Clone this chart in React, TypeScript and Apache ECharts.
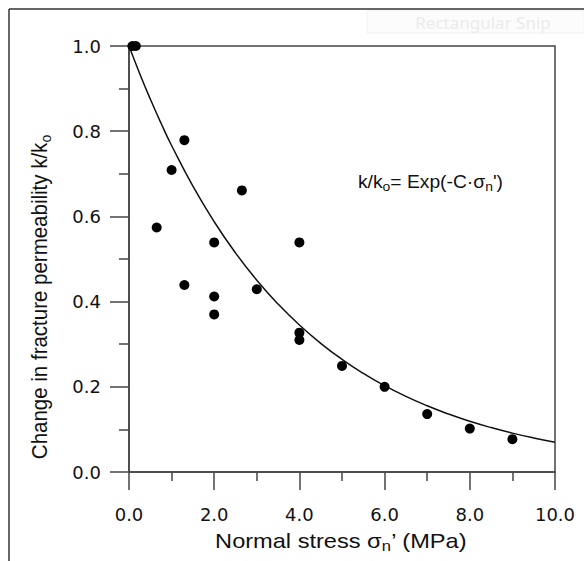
import React, { useEffect, useRef } from "react";
import * as echarts from "echarts";

// Measured data: normal stress (MPa) vs. k/ko
const stressValues = [0.08, 0.16, 0.65, 1.0, 1.3, 1.3, 2.0, 2.0, 2.0, 2.65, 3.0, 4.0, 4.0, 4.0, 5.0, 6.0, 7.0, 8.0, 9.0];
const permValues = [1.0, 1.0, 0.574, 0.709, 0.779, 0.439, 0.539, 0.412, 0.370, 0.661, 0.429, 0.539, 0.327, 0.310, 0.249, 0.200, 0.136, 0.102, 0.077];

// Fitted model k/ko = exp(-C * sigma)
const fitC = 0.266;
const curveX = [0, 0.25, 0.5, 0.75, 1, 1.5, 2, 2.5, 3, 3.5, 4, 4.5, 5, 5.5, 6, 6.5, 7, 7.5, 8, 8.5, 9, 9.5, 10];

const xTicks = ["0.0", "2.0", "4.0", "6.0", "8.0", "10.0"];
const yTicks = ["0.0", "0.2", "0.4", "0.6", "0.8", "1.0"];

const FONT = "'Liberation Sans', Arial, sans-serif";
const TICK_FONT = "'DejaVu Sans', 'Liberation Sans', sans-serif";

export default function App() {
  const ref = useRef<HTMLDivElement>(null);
  useEffect(() => {
    if (!ref.current) return;
    const chart = echarts.init(ref.current, null, { renderer: "svg" });
    const pts = stressValues.map((x, i) => [x, permValues[i]]);
    const curve = curveX.map((x) => [x, Math.exp(-fitC * x)]);
    const axisColor = "#444";
    chart.setOption({
      animation: false,
      backgroundColor: "#fff",
      grid: {
        left: 129,
        top: 46,
        right: 29,
        bottom: 89,
        show: true,
        borderColor: axisColor,
        borderWidth: 1.5,
      },
      xAxis: {
        type: "value",
        min: 0,
        max: 10,
        interval: 2,
        axisLine: { show: true, lineStyle: { color: axisColor, width: 1.5 } },
        axisTick: { show: true, inside: false, length: 18, lineStyle: { color: axisColor, width: 1.5 } },
        minorTick: { show: true, splitNumber: 2, length: 9, lineStyle: { color: axisColor, width: 1.5 } },
        splitLine: { show: false },
        axisLabel: {
          margin: 33,
          fontSize: 18,
          fontFamily: TICK_FONT,
          color: "#111",
          formatter: (v: number) => xTicks[Math.round(v / 2)] ?? "",
        },
      },
      yAxis: {
        type: "value",
        min: 0,
        max: 1,
        interval: 0.2,
        axisLine: { show: true, lineStyle: { color: axisColor, width: 1.5 } },
        axisTick: { show: true, inside: false, length: 19, lineStyle: { color: axisColor, width: 1.5 } },
        minorTick: { show: true, splitNumber: 2, length: 10, lineStyle: { color: axisColor, width: 1.5 } },
        splitLine: { show: false },
        axisLabel: {
          margin: 28,
          fontSize: 18,
          fontFamily: TICK_FONT,
          color: "#111",
          formatter: (v: number) => yTicks[Math.round(v / 0.2)] ?? "",
        },
      },
      series: [
        {
          type: "line",
          data: curve,
          smooth: true,
          showSymbol: false,
          lineStyle: { color: "#111", width: 1.5 },
          z: 2,
        },
        {
          type: "scatter",
          data: pts,
          symbol: "circle",
          symbolSize: 10,
          itemStyle: { color: "#000", opacity: 1 },
          z: 3,
        },
      ],
      graphic: [
        { type: "line", shape: { x1: 9, y1: 9, x2: 584, y2: 9 }, style: { stroke: "#333", lineWidth: 1.5 } },
        { type: "line", shape: { x1: 9, y1: 9, x2: 9, y2: 561 }, style: { stroke: "#333", lineWidth: 1.5 } },
        { type: "rect", shape: { x: 367, y: 11, width: 217, height: 22 }, style: { fill: "#fcfcfc", stroke: "#f2f2f2" } },
        {
          type: "text",
          x: 483,
          y: 22,
          style: { text: "Rectangular Snip", fill: "#ebebeb", font: `17px 'Noto Sans', ${FONT}`, align: "center", verticalAlign: "middle" },
        },
        {
          type: "text",
          x: 358,
          y: 182,
          scaleX: 1.07,
          style: {
            text: "k/k{sub|o}= Exp(-C·σ{sub|n}')",
            fill: "#111",
            font: `18px ${FONT}`,
            verticalAlign: "middle",
            rich: {
              sub: { fontSize: 13, fontFamily: FONT, fill: "#111", padding: [10, 0, 0, 0] },
            },
          },
        },
        {
          type: "text",
          x: 341,
          y: 541,
          scaleX: 1.18,
          style: {
            text: "Normal stress σ{sub|n}’ (MPa)",
            fill: "#111",
            font: `20px ${FONT}`,
            align: "center",
            verticalAlign: "middle",
            rich: {
              sub: { fontSize: 14, fontFamily: FONT, fill: "#111", padding: [10, 0, 0, 0] },
            },
          },
        },
        {
          type: "text",
          x: 40,
          y: 297,
          rotation: Math.PI / 2,
          scaleY: 1.1,
          style: {
            text: "Change in fracture permeability k/k{sub|o}",
            fill: "#111",
            font: `20.5px ${FONT}`,
            align: "center",
            verticalAlign: "middle",
            rich: {
              sub: { fontSize: 14, fontFamily: FONT, fill: "#111", padding: [10, 0, 0, 0] },
            },
          },
        },
      ],
    });
    return () => chart.dispose();
  }, []);
  return <div ref={ref} style={{ position: "fixed", left: 0, top: 0, width: 584, height: 561 }} />;
}
